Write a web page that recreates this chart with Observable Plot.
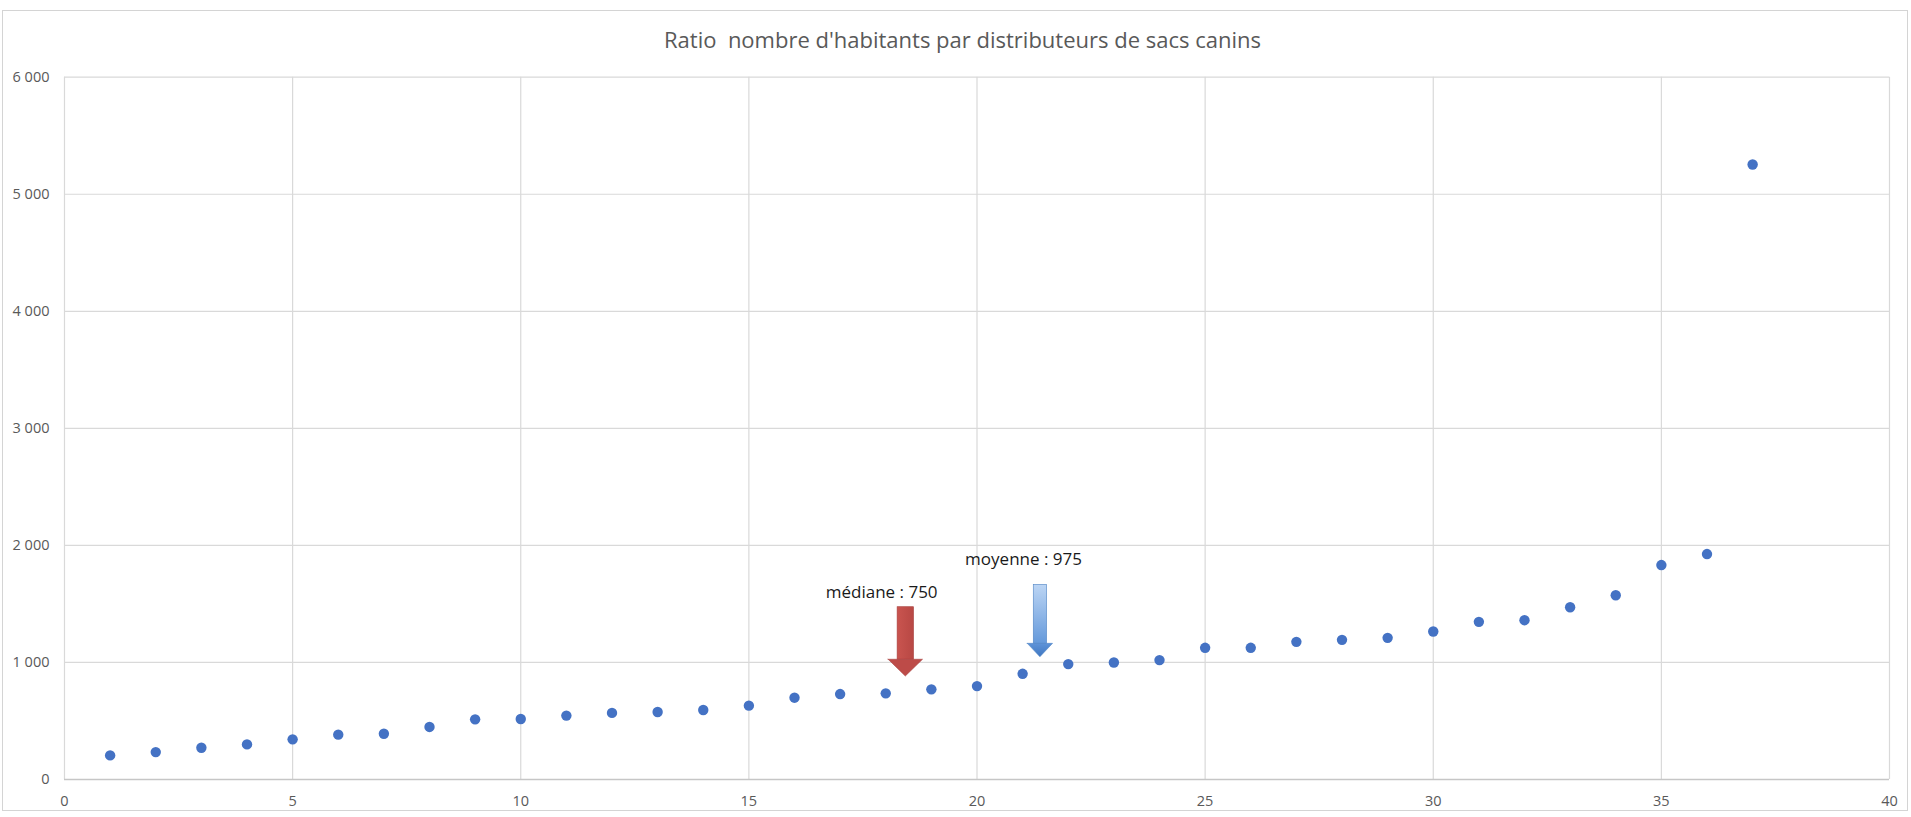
<!DOCTYPE html>
<html>
<head>
<meta charset="utf-8">
<script src="https://cdn.jsdelivr.net/npm/d3@7"></script>
<script src="https://cdn.jsdelivr.net/npm/@observablehq/plot@0.6"></script>
<style>
  html, body { margin: 0; padding: 0; background: #fff; }
  #wrap { position: relative; width: 1911px; height: 817px; overflow: hidden; background: #fff; }
  #title { height: 62px; box-sizing: border-box; padding-top: 25px; padding-left: 14px; text-align: center; font-family: "Open Sans", sans-serif; font-size: 22px; line-height: 29px; color: #595959; white-space: pre; }
  #frame { position: absolute; left: 2px; top: 10px; width: 1904px; height: 799px; border: 1px solid #d4d4d4; pointer-events: none; }
  svg { display: block; }
</style>
</head>
<body>
<div id="wrap">
  <div id="title"></div>
  <div id="chart"></div>
  <div id="frame"></div>
</div>
<script>
// ---- data ----
const titleText = "Ratio  nombre d'habitants par distributeurs de sacs canins";
const ranks = [1,2,3,4,5,6,7,8,9,10,11,12,13,14,15,16,17,18,19,20,21,22,23,24,25,26,27,28,29,30,31,32,33,34,35,36,37];
const ratios = [206,234,271,300,343,383,391,449,514,517,546,569,577,594,631,699,730,736,770,798,903,986,1000,1020,1125,1125,1176,1193,1210,1264,1347,1361,1472,1574,1832,1926,5254];
const xTicks = [0,5,10,15,20,25,30,35,40];
const yTicks = [0,1000,2000,3000,4000,5000,6000];
const yTickLabels = ["0","1 000","2 000","3 000","4 000","5 000","6 000"];

// annotations (data units)
const annotLabels = ["médiane : 750", "moyenne : 975"];
const annotTextX = [17.91, 21.02];
const annotTextY = [1600, 1880];
const arrowX = [18.44, 21.39];
const arrowTop = [1472, 1663];
const arrowNeck = [1023, 1159];
const arrowTip = [880, 1045];
const arrowShaftHalf = [0.18, 0.146];
const arrowHeadHalf = [0.377, 0.277];
const arrowShaftFill = ["url(#redShaft)", "url(#blueShaft)"];
const arrowHeadFill = ["#bd4b48", "url(#blueHead)"];
const arrowStroke = ["#a8423f", "#4f84c4"];

document.getElementById("title").textContent = titleText;

const points = ranks.map((r, i) => ({rank: r, ratio: ratios[i]}));
const shafts = arrowX.map((x, i) => ({x1: x - arrowShaftHalf[i], x2: x + arrowShaftHalf[i], y1: arrowNeck[i], y2: arrowTop[i], fill: arrowShaftFill[i], stroke: arrowStroke[i]}));
const heads = [];
arrowX.forEach((x, i) => {
  heads.push({id: i, x: x - arrowHeadHalf[i], y1: arrowNeck[i], y2: arrowNeck[i]});
  heads.push({id: i, x: x, y1: arrowTip[i], y2: arrowNeck[i]});
  heads.push({id: i, x: x + arrowHeadHalf[i], y1: arrowNeck[i], y2: arrowNeck[i]});
});
const notes = annotLabels.map((t, i) => ({text: t, x: annotTextX[i], y: annotTextY[i]}));
const yLabelMap = new Map(yTicks.map((v, i) => [v, yTickLabels[i]]));

const headMarks = arrowX.map((x, i) => Plot.areaY(heads.filter(d => d.id === i), {
  x: "x", y1: "y1", y2: "y2", fill: arrowHeadFill[i], stroke: arrowStroke[i], strokeWidth: 0.6, curve: "linear"
}));

const chart = Plot.plot({
  width: 1911,
  height: 755,
  marginLeft: 64,
  marginRight: 22,
  marginTop: 14.7,
  marginBottom: 38,
  style: {fontFamily: "'Open Sans', sans-serif", fontSize: "14px", color: "#595959", background: "transparent", overflow: "visible"},
  x: {domain: [0, 40], ticks: xTicks, label: null, tickSize: 0, tickPadding: 16},
  y: {domain: [0, 6000], ticks: yTicks, label: null, tickSize: 0, tickPadding: 16, tickFormat: d => yLabelMap.get(d)},
  marks: [
    Plot.gridX(xTicks, {stroke: "#d9d9d9", strokeOpacity: 1, strokeWidth: 1.2}),
    Plot.gridY(yTicks, {stroke: "#d9d9d9", strokeOpacity: 1, strokeWidth: 1.2}),
    Plot.ruleY([0], {stroke: "#c6c6c6", strokeWidth: 1.6}),
    Plot.axisX({ticks: xTicks, tickSize: 0, tickPadding: 16, fill: "#595959", fontSize: 14.5}),
    Plot.axisY({ticks: yTicks, tickSize: 0, tickPadding: 15, tickFormat: d => yLabelMap.get(d), fill: "#595959", fontSize: 14.5}),
    Plot.dot(points, {x: "rank", y: "ratio", r: 5.2, fill: "#4472c4", stroke: "none"}),
    Plot.rect(shafts, {x1: "x1", x2: "x2", y1: "y1", y2: "y2", fill: d => d.fill, stroke: d => d.stroke, strokeWidth: 0.6}),
    ...headMarks,
    Plot.text(notes, {x: "x", y: "y", text: "text", fontSize: 17, fill: "#1a1a1a", fontFamily: "'Open Sans', sans-serif"})
  ]
});

// gradients for the arrows
const ns = "http://www.w3.org/2000/svg";
const defs = document.createElementNS(ns, "defs");
defs.innerHTML = `
  <linearGradient id="blueShaft" x1="0" y1="0" x2="0" y2="1">
    <stop offset="0" stop-color="#bcd5f4"/>
    <stop offset="1" stop-color="#6499db"/>
  </linearGradient>
  <linearGradient id="blueHead" x1="0" y1="0" x2="0" y2="1">
    <stop offset="0" stop-color="#5e93d8"/>
    <stop offset="1" stop-color="#3f77c2"/>
  </linearGradient>
  <linearGradient id="redShaft" x1="0" y1="0" x2="1" y2="0">
    <stop offset="0" stop-color="#c9544f"/>
    <stop offset="1" stop-color="#b84844"/>
  </linearGradient>`;
chart.insertBefore(defs, chart.firstChild);

document.getElementById("chart").appendChild(chart);
</script>
</body>
</html>
